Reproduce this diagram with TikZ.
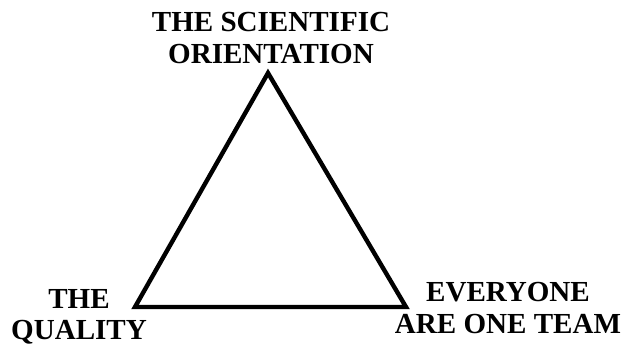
\documentclass[tikz,border=0pt]{standalone}
\usepackage{fontspec}
\setmainfont{Liberation Serif}

\begin{document}
\begin{tikzpicture}[x=0.75pt, y=-0.75pt,
    corner/.style={font=\bfseries\fontsize{21.8}{23.5}\selectfont, align=center, inner sep=0pt}]
                \useasboundingbox (0, 0) rectangle (636, 345);
                % Corners of the triangle:
                \coordinate (apex) at (268, 73);
                \coordinate (baseL) at (135, 307);
                \coordinate (baseR) at (406, 307);
                \draw[line width=3.3pt, line join=miter] (apex) -- (baseL) -- (baseR) -- cycle;
                % Labels:
                \node[corner] (sci) at (271, 38) {THE SCIENTIFIC\\ORIENTATION};
                \node[corner] (qual) at (79, 317) {THE\\QUALITY};
                \node[corner] (team) at (508, 308) {EVERYONE\\ARE ONE TEAM};
            \end{tikzpicture}
\end{document}
